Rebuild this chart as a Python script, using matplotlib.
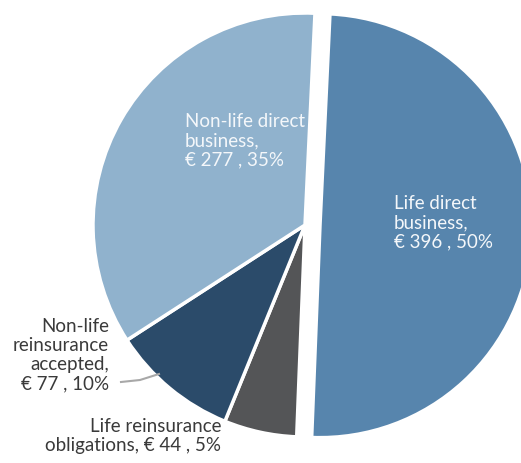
import matplotlib.pyplot as plt

segments = ['Life direct business', 'Life reinsurance obligations',
            'Non-life reinsurance accepted', 'Non-life direct business']
amounts = [396, 44, 77, 277]
shares = [50, 5, 10, 35]
colors = ['#5785ad', '#545557', '#2b4b6a', '#90b2cd']
explode = [15, 0, 0, 0]  # pixels, pie does not scale explode by radius

plt.rcParams['font.family'] = ['Lato', 'DejaVu Sans']

fig = plt.figure(figsize=(5.21, 4.63), dpi=100)
ax = fig.add_axes([0, 0, 1, 1])
ax.pie(amounts, colors=colors, explode=explode, startangle=87.3,
       counterclock=False, radius=212, center=(305, 238),
       wedgeprops=dict(edgecolor='white', linewidth=2.5))
ax.set_xlim(0, 521)
ax.set_ylim(0, 463)
ax.set_aspect('equal')
ax.axis('off')

def lab(i):
    return '€ %d , %d%%' % (amounts[i], shares[i])

fs = 13.5
kw = dict(fontsize=fs, va='top', linespacing=1.15)
ax.text(394, 463 - 195, 'Life direct\nbusiness,\n' + lab(0), color='#f4f7fa',
        ha='left', **kw)
ax.text(185, 463 - 113, 'Non-life direct\nbusiness,\n' + lab(3), color='#f4f7fa',
        ha='left', **kw)
ax.text(109, 463 - 318, 'Non-life\nreinsurance\naccepted,\n' + lab(2), color='#3a3a3a',
        ha='right', **kw)
ax.text(221, 463 - 418, 'Life reinsurance\nobligations, ' + lab(1), color='#3a3a3a',
        ha='right', **kw)
ax.plot([121, 140, 159], [463 - 382, 463 - 380, 463 - 374], color='#a8a8a8', lw=1.5)

fig.savefig('out.png', dpi=100)
